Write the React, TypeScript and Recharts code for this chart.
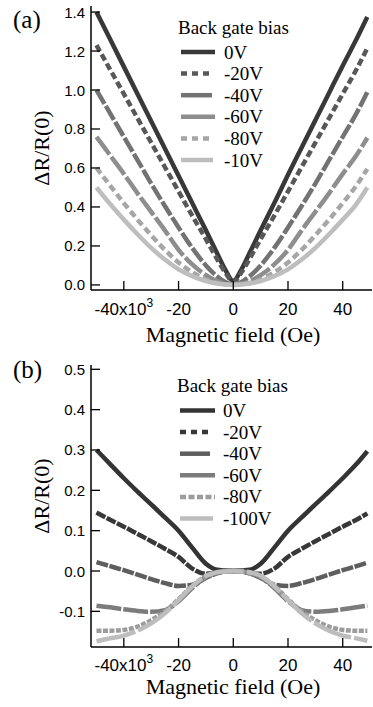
import { LineChart, Line, XAxis, YAxis } from 'recharts';

// field in units of 10^3 Oe
const fieldA = [-50, -45, -40, -35, -30, -25, -20, -15, -10, -6, -3, 0, 3, 6, 10, 15, 20, 25, 30, 35, 40, 45, 49];
const a0V = [1.40, 1.26, 1.12, 0.98, 0.84, 0.70, 0.56, 0.42, 0.28, 0.165, 0.08, 0.02, 0.08, 0.165, 0.28, 0.42, 0.565, 0.705, 0.845, 0.985, 1.125, 1.26, 1.375];
const a20V = [1.23, 1.105, 0.98, 0.855, 0.73, 0.605, 0.48, 0.355, 0.235, 0.135, 0.065, 0.015, 0.065, 0.135, 0.235, 0.355, 0.48, 0.605, 0.73, 0.855, 0.98, 1.105, 1.215];
const a40V = [1.00, 0.88, 0.76, 0.64, 0.52, 0.405, 0.295, 0.19, 0.10, 0.045, 0.015, 0.005, 0.015, 0.045, 0.10, 0.19, 0.295, 0.405, 0.52, 0.64, 0.76, 0.88, 0.99];
const a60V = [0.76, 0.665, 0.57, 0.47, 0.375, 0.28, 0.18, 0.105, 0.05, 0.02, 0.007, 0.003, 0.007, 0.02, 0.05, 0.105, 0.18, 0.28, 0.375, 0.47, 0.57, 0.665, 0.755];
const a80V = [0.60, 0.51, 0.42, 0.335, 0.255, 0.18, 0.115, 0.065, 0.028, 0.01, 0.003, 0, 0.003, 0.01, 0.028, 0.065, 0.115, 0.18, 0.255, 0.335, 0.42, 0.51, 0.595];
const a10V = [0.50, 0.415, 0.335, 0.26, 0.19, 0.13, 0.08, 0.045, 0.02, 0.007, 0.002, 0, 0.002, 0.007, 0.02, 0.045, 0.08, 0.13, 0.19, 0.26, 0.335, 0.415, 0.50];

const fieldB = [-50, -45, -40, -35, -30, -25, -20, -15, -10, -6, -3, 0, 3, 6, 10, 15, 20, 25, 30, 35, 40, 45, 49];
const b0V = [0.30, 0.265, 0.23, 0.197, 0.165, 0.133, 0.10, 0.058, 0.018, 0.003, 0.001, 0, 0.001, 0.003, 0.018, 0.058, 0.10, 0.133, 0.165, 0.197, 0.23, 0.265, 0.297];
const b20V = [0.145, 0.127, 0.11, 0.092, 0.074, 0.055, 0.035, 0.006, -0.007, -0.004, -0.001, 0, -0.001, -0.004, -0.007, 0.006, 0.035, 0.055, 0.074, 0.092, 0.11, 0.127, 0.143];
const b40V = [0.022, 0.012, 0.002, -0.009, -0.02, -0.03, -0.037, -0.034, -0.017, -0.006, -0.001, 0, -0.001, -0.006, -0.017, -0.034, -0.037, -0.03, -0.02, -0.009, 0.002, 0.012, 0.021];
const b60V = [-0.086, -0.09, -0.095, -0.099, -0.101, -0.097, -0.075, -0.042, -0.016, -0.005, -0.001, 0, -0.001, -0.005, -0.016, -0.042, -0.075, -0.097, -0.101, -0.099, -0.095, -0.09, -0.086];
const b80V = [-0.148, -0.148, -0.146, -0.138, -0.122, -0.10, -0.07, -0.037, -0.013, -0.004, -0.001, 0, -0.001, -0.004, -0.013, -0.037, -0.07, -0.10, -0.122, -0.138, -0.146, -0.148, -0.148];
const b100V = [-0.174, -0.167, -0.16, -0.148, -0.13, -0.105, -0.072, -0.038, -0.012, -0.003, -0.001, 0, -0.001, -0.003, -0.012, -0.038, -0.072, -0.105, -0.13, -0.148, -0.16, -0.167, -0.173];

const xTicks = [-40, -20, 0, 20, 40];
const yTicksA = [0, 0.2, 0.4, 0.6, 0.8, 1.0, 1.2, 1.4];
const yTicksB = [-0.1, 0, 0.1, 0.2, 0.3, 0.4, 0.5];

const namesA = ['0V', '-20V', '-40V', '-60V', '-80V', '-10V'];
const namesB = ['0V', '-20V', '-40V', '-60V', '-80V', '-100V'];

const seriesA = [a0V, a20V, a40V, a60V, a80V, a10V];
const seriesB = [b0V, b20V, b40V, b60V, b80V, b100V];

const colorsA = ['#383838', '#585858', '#737373', '#8e8e8e', '#a6a6a6', '#bebebe'];
const colorsB = ['#343434', '#383838', '#5e5e5e', '#7c7c7c', '#9c9c9c', '#bdbdbd'];
const dashA = [undefined, '7 3.5', '16 2.5', '22 3', '7 4', undefined];
const dashB = [undefined, '10 1.5', '12 1.5', '25 2', '5 1.5', '40 3'];
const legDashA = [undefined, '6 5', undefined, undefined, '6 5', undefined];
const legDashB = [undefined, '6 5', undefined, undefined, '6 2.5', undefined];
const legLenA = [34, 31, 31, 34, 31, 32];
const legLenB = [35, 33, 30, 35, 35, 33];

const rowsA = fieldA.map((f, i) => {
  const r: any = { field: f };
  seriesA.forEach((s, k) => (r['s' + k] = s[i]));
  return r;
});
const rowsB = fieldB.map((f, i) => {
  const r: any = { field: f };
  seriesB.forEach((s, k) => (r['s' + k] = s[i]));
  return r;
});

const SANS = { fontFamily: '"Liberation Sans", Arial, sans-serif' };
const SERIF = { fontFamily: '"Liberation Serif", "Times New Roman", serif' };
const TL = 9;

const BottomTick = (props: any) => {
  const { x, y, payload, dy } = props;
  return (
    <g>
      <line x1={x} y1={y} x2={x} y2={y - TL} stroke="#000" strokeWidth={1.3} />
      <text x={x} y={y + dy} textAnchor="middle" style={SANS} fontSize={17} fill="#000">
        {payload.value === -40 ? (
          <>
            -40x10<tspan dy={-8} fontSize={12}>3</tspan>
          </>
        ) : (
          payload.value
        )}
      </text>
    </g>
  );
};
const TopTick = (props: any) => {
  const { x, y } = props;
  return <line x1={x} y1={y} x2={x} y2={y + TL} stroke="#000" strokeWidth={1.3} />;
};
const LeftTick = (props: any) => {
  const { x, y, payload } = props;
  return (
    <g>
      <line x1={x} y1={y} x2={x + TL} y2={y} stroke="#000" strokeWidth={1.3} />
      <text x={x - 6} y={y + 5.5} textAnchor="end" style={SANS} fontSize={15} fill="#000">
        {Number(payload.value).toFixed(1)}
      </text>
    </g>
  );
};
const RightTick = (props: any) => {
  const { x, y } = props;
  return <line x1={x} y1={y} x2={x - TL} y2={y} stroke="#000" strokeWidth={1.3} />;
};

const axisLine = { stroke: '#000', strokeWidth: 1.5 };
const xDomain: [number, number] = [-52, 50.7];

function Panel(props: {
  rows: any[];
  yDomain: [number, number];
  yTicks: number[];
  colors: string[];
  dashes: (string | undefined)[];
  height: number;
  top: number;
  labelDy: number;
}) {
  const { rows, yDomain, yTicks, colors, dashes, height, top, labelDy } = props;
  return (
    <LineChart width={373} height={height} data={rows} margin={{ top, right: 1, left: 0, bottom: 0 }}>
      <XAxis
        dataKey="field"
        type="number"
        domain={xDomain}
        ticks={xTicks}
        height={60}
        tickSize={0}
        tickMargin={0}
        tickLine={false}
        axisLine={axisLine}
        tick={<BottomTick dy={labelDy} />}
        allowDataOverflow
      />
      <XAxis
        xAxisId="top"
        orientation="top"
        dataKey="field"
        type="number"
        domain={xDomain}
        ticks={xTicks}
        height={0}
        tickSize={0}
        tickMargin={0}
        tickLine={false}
        axisLine={axisLine}
        tick={<TopTick />}
        allowDataOverflow
      />
      <YAxis
        type="number"
        domain={yDomain}
        ticks={yTicks}
        width={91}
        tickSize={0}
        tickMargin={0}
        tickLine={false}
        axisLine={axisLine}
        tick={<LeftTick />}
        allowDataOverflow
      />
      <YAxis
        yAxisId="r"
        orientation="right"
        type="number"
        domain={yDomain}
        ticks={yTicks}
        width={0}
        tickSize={0}
        tickMargin={0}
        tickLine={false}
        axisLine={axisLine}
        tick={<RightTick />}
        allowDataOverflow
      />
      {colors.map((c, k) => (
        <Line
          key={k}
          type="monotone"
          dataKey={'s' + k}
          stroke={c}
          strokeWidth={4.5}
          strokeDasharray={dashes[k]}
          dot={false}
          isAnimationActive={false}
        />
      ))}
    </LineChart>
  );
}

function LegendBox(props: { x: number; y: number; names: string[]; colors: string[]; dashes: (string | undefined)[]; lens: number[] }) {
  const { x, y, names, colors, dashes, lens } = props;
  return (
    <g>
      <text x={x - 3} y={y} style={SERIF} fontSize={19} fill="#000">
        Back gate bias
      </text>
      {names.map((n, k) => {
        const cy = y + 18.5 + k * 21.6;
        return (
          <g key={n}>
            <line x1={x} y1={cy} x2={x + lens[k]} y2={cy} stroke={colors[k]} strokeWidth={4.5} strokeDasharray={dashes[k]} />
            <text x={x + 43} y={cy + 6.5} style={SERIF} fontSize={19} fill="#000">
              {n}
            </text>
          </g>
        );
      })}
    </g>
  );
}

export default function App() {
  return (
    <div style={{ position: 'absolute', left: 0, top: 0, width: 373, height: 707, background: '#fff' }}>
      <div style={{ position: 'absolute', left: 0, top: 0 }}>
        <Panel rows={rowsA} yDomain={[-0.026, 1.431]} yTicks={yTicksA} colors={colorsA} dashes={dashA} height={350} top={6} labelDy={25} />
      </div>
      <div style={{ position: 'absolute', left: 0, top: 352 }}>
        <Panel rows={rowsB} yDomain={[-0.1884, 0.5107]} yTicks={yTicksB} colors={colorsB} dashes={dashB} height={355} top={13} labelDy={24} />
      </div>
      <svg width={373} height={707} style={{ position: 'absolute', left: 0, top: 0, pointerEvents: 'none' }}>
        <text x={13} y={28} style={SERIF} fontSize={25} fill="#000">(a)</text>
        <text x={13} y={378} style={SERIF} fontSize={25} fill="#000">(b)</text>
        <text transform="translate(49,148) rotate(-90)" textAnchor="middle" style={SERIF} fontSize={22} fill="#000">
          ΔR/R(0)
        </text>
        <text transform="translate(49,496) rotate(-90)" textAnchor="middle" style={SERIF} fontSize={22} fill="#000">
          ΔR/R(0)
        </text>
        <text x={233} y={342} textAnchor="middle" style={SERIF} fontSize={22} fill="#000">
          Magnetic field (Oe)
        </text>
        <text x={233} y={694} textAnchor="middle" style={SERIF} fontSize={22} fill="#000">
          Magnetic field (Oe)
        </text>
        <LegendBox x={181} y={33.5} names={namesA} colors={colorsA} dashes={legDashA} lens={legLenA} />
        <LegendBox x={180} y={392} names={namesB} colors={colorsB} dashes={legDashB} lens={legLenB} />
      </svg>
    </div>
  );
}
